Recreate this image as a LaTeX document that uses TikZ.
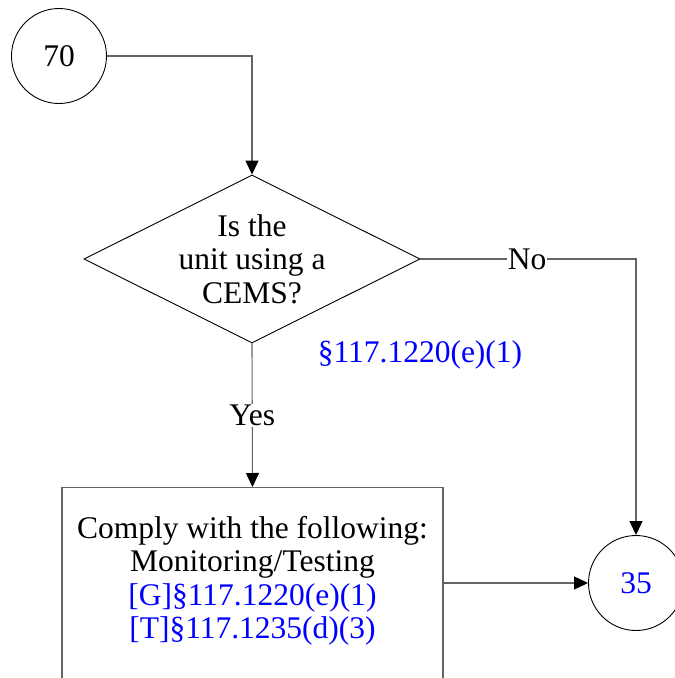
\documentclass[tikz,border=0pt]{standalone}
\usepackage{fontspec}
\setmainfont{Liberation Serif}
\usetikzlibrary{shapes.geometric,arrows.meta}
\definecolor{refblue}{RGB}{0,0,255}
\definecolor{conngray}{RGB}{100,100,100}
\begin{document}
\begin{tikzpicture}[x=1pt,y=1pt,
  txt/.style={font=\fontsize{31.5}{33.5}\selectfont, align=center, inner sep=1pt},
  conn/.style={draw=conngray, line width=1.1pt},
  arr/.style={conn, -{Triangle[length=14pt,width=13pt,color=black]}},
  circ/.style={circle, draw=black, line width=0.9pt, minimum size=95pt, inner sep=0pt, txt},
  decision/.style={diamond, draw=black, line width=0.9pt, minimum width=336pt, minimum height=168pt, inner sep=0pt},
  stepbox/.style={rectangle, draw=conngray, line width=1.1pt, minimum width=381pt, minimum height=220pt, inner sep=0pt},
  lbl/.style={txt, fill=white, inner sep=1pt},
  ref/.style={txt, text=refblue}
]
\useasboundingbox (0,0) rectangle (675,-678);
\clip (0,0) rectangle (675,-678);

\node[circ] (c70) at (59,-56) {70};
\node[decision] (d) at (252,-259) {};
\node[txt] (dtext) at (252,-259) {Is the\\unit using a\\CEMS?};
\node[stepbox, anchor=north] (box) at (252.5,-487) {};
\node[txt] (boxtext) at (252.5,-581) {Comply with the following:\\Monitoring/Testing\\\textcolor{refblue}{[G]§117.1220(e)(1)}\\\textcolor{refblue}{[T]§117.1235(d)(3)}};
\node[circ, text=refblue] (c35) at (636,-583) {35};
\node[ref] (cite) at (420,-355) {§117.1220(e)(1)};

\draw[arr] (c70.east) -- (c70.east -| d.north) -- (d.north);
\draw[arr] (d.south) -- node[lbl] (yes) {Yes} (box.north);
\draw[arr] (d.east) -- node[lbl, pos=0.495] (no) {No} (d.east -| c35.north) -- (c35.north);
\draw[arr] (box.east |- c35.west) -- (c35.west);
\end{tikzpicture}
\end{document}
